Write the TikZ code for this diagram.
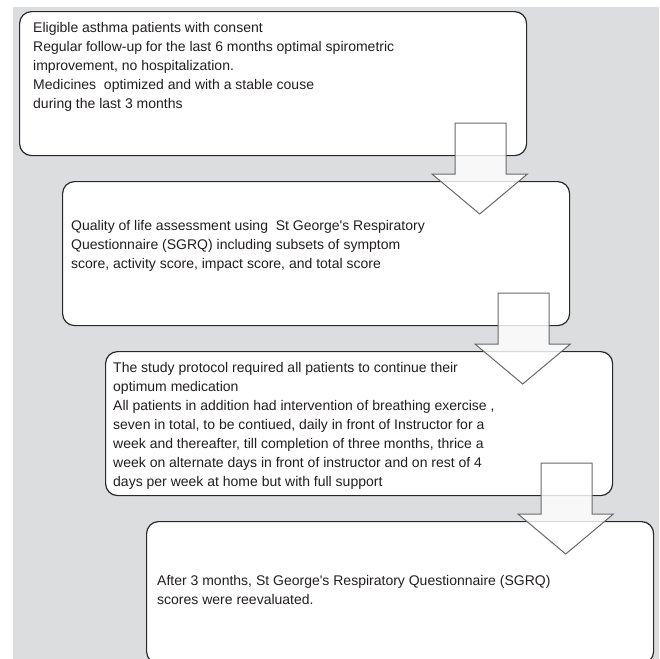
\documentclass[tikz,border=0pt]{standalone}
\usepackage{fontspec}
\setmainfont{Liberation Sans}
\usetikzlibrary{calc}
\definecolor{bggray}{RGB}{220,221,223}
\definecolor{boxline}{RGB}{40,40,40}
\definecolor{arrline}{RGB}{105,105,105}
\definecolor{txt}{RGB}{35,31,32}
\newcommand\flowarrow[2]{%
  \path[blockarrow] let \p1=(#1.south east), \p2=(#2.north) in
    (\x1-72pt,\y1+33pt) -- (\x1-21pt,\y1+33pt) -- (\x1-21pt,\y1-18pt) --
    (\x1,\y1-18pt) -- (\x1-47.5pt,\y2-33pt) -- (\x1-95pt,\y1-18pt) --
    (\x1-72pt,\y1-18pt) -- cycle;}
\begin{document}
\begin{tikzpicture}[x=1pt,y=-1pt,
  stepbox/.style={draw=boxline, line width=1.2pt, rounded corners=12pt, fill=white,
    minimum width=507pt, minimum height=144pt, inner sep=0pt, anchor=north west},
  boxtext/.style={anchor=north west, inner sep=0pt, align=left,
    font=\fontsize{14}{19}\selectfont, text=txt},
  blockarrow/.style={draw=arrline, line width=1pt, fill=white, fill opacity=0.82}]
\useasboundingbox (0,0) rectangle (659,659);
\clip (0,0) rectangle (659,659);
\fill[bggray] (13,7) rectangle (659,659);
\node[stepbox] (b1) at (19,11) {};
\node[stepbox] (b2) at (62,181) {};
\node[stepbox] (b3) at (105,351) {};
\node[stepbox, minimum height=142pt] (b4) at (146,521) {};
\node[boxtext] (t1) at ($(b1.north west)+(14,11)$) {Eligible asthma patients with consent\\
Regular follow-up for the last 6 months optimal spirometric\\
improvement, no hospitalization.\\
Medicines\ \ optimized and with a stable couse\\
during the last 3 months};
\node[boxtext] (t2) at ($(b2.north west)+(9,39)$) {Quality of life assessment using\ \ St George\textquotesingle s Respiratory\\
Questionnaire (SGRQ) including subsets of symptom\\
score, activity score, impact score, and total score};
\node[boxtext] (t3) at ($(b3.north west)+(8,11)$) {The study protocol required all patients to continue their\\
optimum medication\\
All patients in addition had intervention of breathing exercise ,\\
seven in total, to be contiued, daily in front of Instructor for a\\
week and thereafter, till completion of three months, thrice a\\
week on alternate days in front of instructor and on rest of 4\\
days per week at home but with full support};
\node[boxtext] (t4) at ($(b4.north west)+(11,54)$) {After 3 months, St George\textquotesingle s Respiratory Questionnaire (SGRQ)\\
scores were reevaluated.};
\flowarrow{b1}{b2}
\flowarrow{b2}{b3}
\flowarrow{b3}{b4}
\end{tikzpicture}
\end{document}
